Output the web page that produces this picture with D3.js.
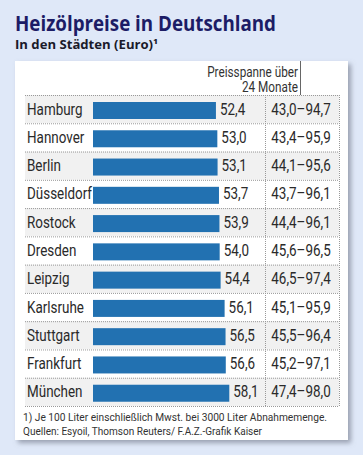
<!DOCTYPE html>
<html>
<head>
<meta charset="utf-8">
<script src="https://cdn.jsdelivr.net/npm/d3@7"></script>
<style>
  body { margin: 0; background: #dfe8f8; }
  svg { display: block; }
  .narrow { font-family: Roboto, "Noto Sans", sans-serif; }
</style>
</head>
<body>
<svg width="363" height="455"></svg>
<script>
// Heizölpreise je Stadt
var cities = ["Hamburg", "Hannover", "Berlin", "Düsseldorf", "Rostock", "Dresden",
              "Leipzig", "Karlsruhe", "Stuttgart", "Frankfurt", "München"]
var prices = [52.4, 53.0, 53.1, 53.7, 53.9, 54.0, 54.4, 56.1, 56.5, 56.6, 58.1]
var rangeLow = [43.0, 43.4, 44.1, 43.7, 44.4, 45.6, 46.5, 45.1, 45.5, 45.2, 47.4]
var rangeHigh = [94.7, 95.9, 95.6, 96.1, 96.1, 96.5, 97.4, 95.9, 96.4, 97.1, 98.0]

var fmt = function(v){ return v.toFixed(1).replace(".", ",") }
var squeeze = 0.84   // fake a condensed face

var svg = d3.select("svg"),
    tableLeft = 25, tableRight = 339, sepX = 265,
    tableTop = 95, tableBottom = 406

var defs = svg.append("defs")
var f = defs.append("filter").attr("id", "shadow")
    .attr("x", "-5%").attr("y", "-5%").attr("width", "115%").attr("height", "115%")
f.append("feDropShadow").attr("dx", 3).attr("dy", 3).attr("stdDeviation", 2.5)
    .attr("flood-color", "#6b7080").attr("flood-opacity", 0.6)

svg.append("rect").attr("width", 363).attr("height", 455).attr("fill", "#dfe8f8")

// title
svg.append("text").attr("x", 15).attr("y", 31)
    .attr("font-family", "Open Sans, sans-serif").attr("font-weight", "bold")
    .attr("font-size", 21).attr("fill", "#1c1c66")
    .attr("textLength", 261).attr("lengthAdjust", "spacingAndGlyphs")
    .text("Heizölpreise in Deutschland")
svg.append("text").attr("x", 15).attr("y", 49)
    .attr("font-family", "Open Sans, sans-serif").attr("font-weight", "bold")
    .attr("font-size", 12).attr("fill", "#1a1a2a")
    .attr("textLength", 143).attr("lengthAdjust", "spacingAndGlyphs")
    .text("In den Städten (Euro)¹")

// panel
svg.append("rect").attr("x", 15).attr("y", 61).attr("width", 333).attr("height", 379)
    .attr("fill", "#fff").attr("filter", "url(#shadow)")

var y = d3.scaleBand().domain(cities).range([tableTop, tableBottom]).paddingInner(0).paddingOuter(0)
var x = d3.scaleLinear().domain([0, 58.1]).range([93, 229.3])

var g = svg.append("g").attr("class", "narrow")

// row shading
g.selectAll(".rowbg").data(cities).enter().append("rect")
    .attr("x", tableLeft).attr("y", function(d){ return y(d) })
    .attr("width", tableRight - tableLeft).attr("height", y.bandwidth())
    .attr("fill", function(d, i){ return i % 2 == 0 ? "#f1f1f1" : "#fff" })

// header
svg.append("line").attr("x1", 300.5).attr("x2", 300.5).attr("y1", 61).attr("y2", tableTop)
    .attr("stroke", "#666").attr("stroke-width", 1)
g.append("text").attr("transform", "translate(298,77) scale(" + squeeze + ",1)")
    .attr("text-anchor", "end").attr("font-size", 14).attr("fill", "#333").text("Preisspanne über")
g.append("text").attr("transform", "translate(298,92) scale(" + squeeze + ",1)")
    .attr("text-anchor", "end").attr("font-size", 14).attr("fill", "#333").text("24 Monate")

// grid lines
var lines = d3.range(cities.length + 1).map(function(i){ return i == cities.length ? tableBottom : y(cities[i]) })
g.selectAll(".hline").data(lines).enter().append("line")
    .attr("x1", tableLeft).attr("x2", tableRight)
    .attr("y1", function(d){ return d + 0.5 }).attr("y2", function(d){ return d + 0.5 })
    .attr("stroke", "#999").attr("stroke-width", 1).attr("stroke-dasharray", "1,1")
g.selectAll(".vline").data([sepX, tableRight]).enter().append("line")
    .attr("x1", function(d){ return d + 0.5 }).attr("x2", function(d){ return d + 0.5 })
    .attr("y1", tableTop).attr("y2", tableBottom)
    .attr("stroke", "#999").attr("stroke-width", 1).attr("stroke-dasharray", "1,1")

// rows
var rows = g.selectAll(".row").data(cities).enter().append("g")
    .attr("transform", function(d){ return "translate(0," + y(d) + ")" })

var mid = y.bandwidth() / 2 + 5.5

rows.append("text")
    .attr("transform", "translate(27," + mid + ") scale(" + squeeze + ",1)")
    .attr("font-size", 16).attr("fill", "#2a2a2a").text(function(d){ return d })

rows.append("rect").attr("x", x(0)).attr("y", 7).attr("height", 17)
    .attr("width", function(d, i){ return x(prices[i]) - x(0) })
    .attr("fill", "#2271b1")

rows.append("text")
    .attr("transform", function(d, i){ return "translate(" + (x(prices[i]) + 4) + "," + mid + ") scale(" + squeeze + ",1)" })
    .attr("font-size", 16).attr("fill", "#2a2a2a")
    .text(function(d, i){ return fmt(prices[i]) })

rows.append("text")
    .attr("transform", "translate(301," + mid + ") scale(" + squeeze + ",1)")
    .attr("text-anchor", "middle")
    .attr("font-size", 16).attr("fill", "#2a2a2a")
    .text(function(d, i){ return fmt(rangeLow[i]) + "–" + fmt(rangeHigh[i]) })

// footnote
g.append("text").attr("x", 23).attr("y", 421).attr("font-size", 11).attr("fill", "#333")
    .attr("textLength", 304).attr("lengthAdjust", "spacingAndGlyphs")
    .text("1) Je 100 Liter einschließlich Mwst. bei 3000 Liter Abnahmemenge.")
g.append("text").attr("x", 23).attr("y", 435).attr("font-size", 11).attr("fill", "#333")
    .attr("textLength", 239).attr("lengthAdjust", "spacingAndGlyphs")
    .text("Quellen: Esyoil, Thomson Reuters/ F.A.Z.-Grafik Kaiser")
</script>
</body>
</html>
